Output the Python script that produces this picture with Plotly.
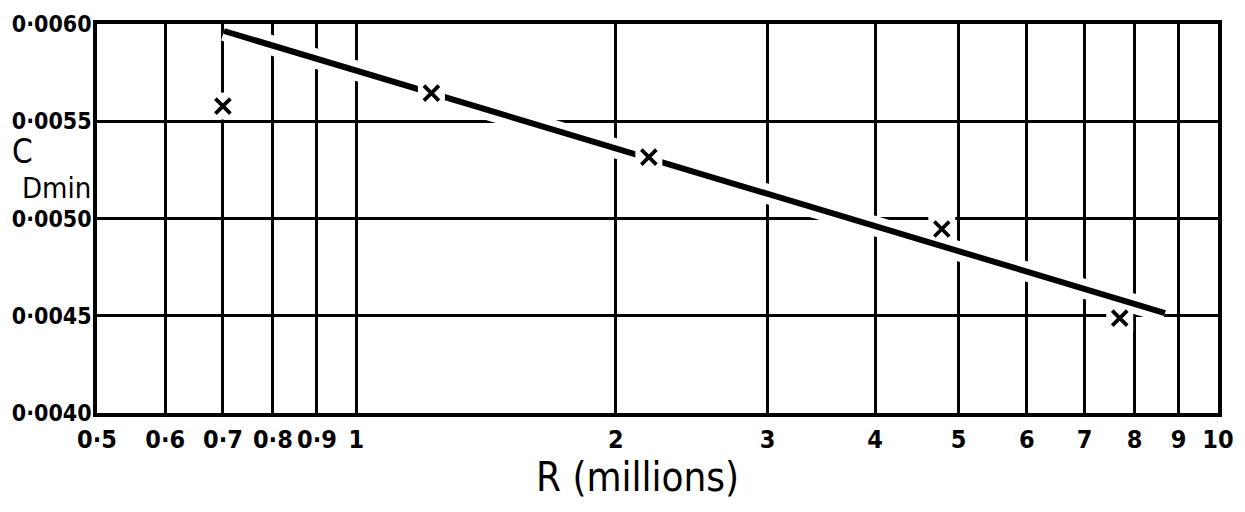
import math
import plotly.graph_objects as go

# Fitted line (R in millions, CDmin)
line_R = [0.702, 8.68]
line_CD = [0.005964, 0.004514]

# Experimental points
pts_R = [0.70, 1.222, 2.185, 4.78, 7.69]
pts_CD = [0.005578, 0.005645, 0.005316, 0.004946, 0.004488]

x_tickvals = [0.5, 0.6, 0.7, 0.8, 0.9, 1, 2, 3, 4, 5, 6, 7, 8, 9, 10]
x_ticktext = ["0·5", "0·6", "0·7", "0·8", "0·9", "1", "2", "3", "4", "5", "6", "7", "8", "9", "10"]
y_tickvals = [0.0040, 0.0045, 0.0050, 0.0055, 0.0060]
y_ticktext = ["0·0040", "0·0045", "0·0050", "0·0055", "0·0060"]

FONT = "DejaVu Sans Condensed, DejaVu Sans, sans-serif"

fig = go.Figure()
# white halo under line (breaks gridlines like the hand-drawn original)
fig.add_trace(go.Scatter(x=line_R, y=line_CD, mode="lines",
                         line=dict(color="white", width=20), hoverinfo="skip", showlegend=False))
# white halo under markers
fig.add_trace(go.Scatter(x=pts_R, y=pts_CD, mode="markers",
                         marker=dict(symbol="square", size=27, color="white"),
                         hoverinfo="skip", showlegend=False))
# main line
fig.add_trace(go.Scatter(x=line_R, y=line_CD, mode="lines",
                         line=dict(color="black", width=6), showlegend=False))
# gaps in the line around the points lying on it
fig.add_trace(go.Scatter(x=pts_R[1:3], y=pts_CD[1:3], mode="markers",
                         marker=dict(symbol="square", size=27, color="white"),
                         hoverinfo="skip", showlegend=False))
fig.add_trace(go.Scatter(x=pts_R, y=pts_CD, mode="markers",
                         marker=dict(symbol="x-thin", size=15, color="black",
                                     line=dict(width=3.8, color="black")),
                         showlegend=False))

fig.update_layout(
    width=1237, height=496,
    margin=dict(l=89, r=27, t=16, b=91),
    paper_bgcolor="white", plot_bgcolor="white",
    font=dict(family=FONT, color="black"),
    xaxis=dict(type="log", range=[math.log10(0.5), 1], automargin=False,
               tickmode="array", tickvals=x_tickvals, ticktext=x_ticktext,
               showgrid=True, gridcolor="black", gridwidth=3,
               showline=True, linecolor="black", linewidth=3.5, mirror=True,
               ticks="", ticklabelstandoff=1,
               tickfont=dict(size=25, family=FONT, weight="bold"),
               zeroline=False),
    yaxis=dict(range=[0.0040, 0.0060], automargin=False,
               tickmode="array", tickvals=y_tickvals, ticktext=y_ticktext,
               showgrid=True, gridcolor="black", gridwidth=3,
               showline=True, linecolor="black", linewidth=3.5, mirror=True,
               ticks="", ticklabelstandoff=-3,
               tickfont=dict(size=23, family=FONT, weight="bold"),
               zeroline=False),
    annotations=[
        dict(text="R (millions)", xref="paper", yref="paper",
             x=0.4826, y=-0.1645, xanchor="center", yanchor="middle",
             showarrow=False, font=dict(size=40, family=FONT)),
        dict(text="C", xref="paper", yref="paper",
             x=-0.0665, y=0.6735, xanchor="center", yanchor="middle",
             showarrow=False, font=dict(size=33, family=FONT)),
        dict(text="Dmin", xref="paper", yref="paper",
             x=-0.004, y=0.5784, xanchor="right", yanchor="middle",
             showarrow=False, font=dict(size=29, family=FONT)),
    ],
)

fig.write_html("out.html")
